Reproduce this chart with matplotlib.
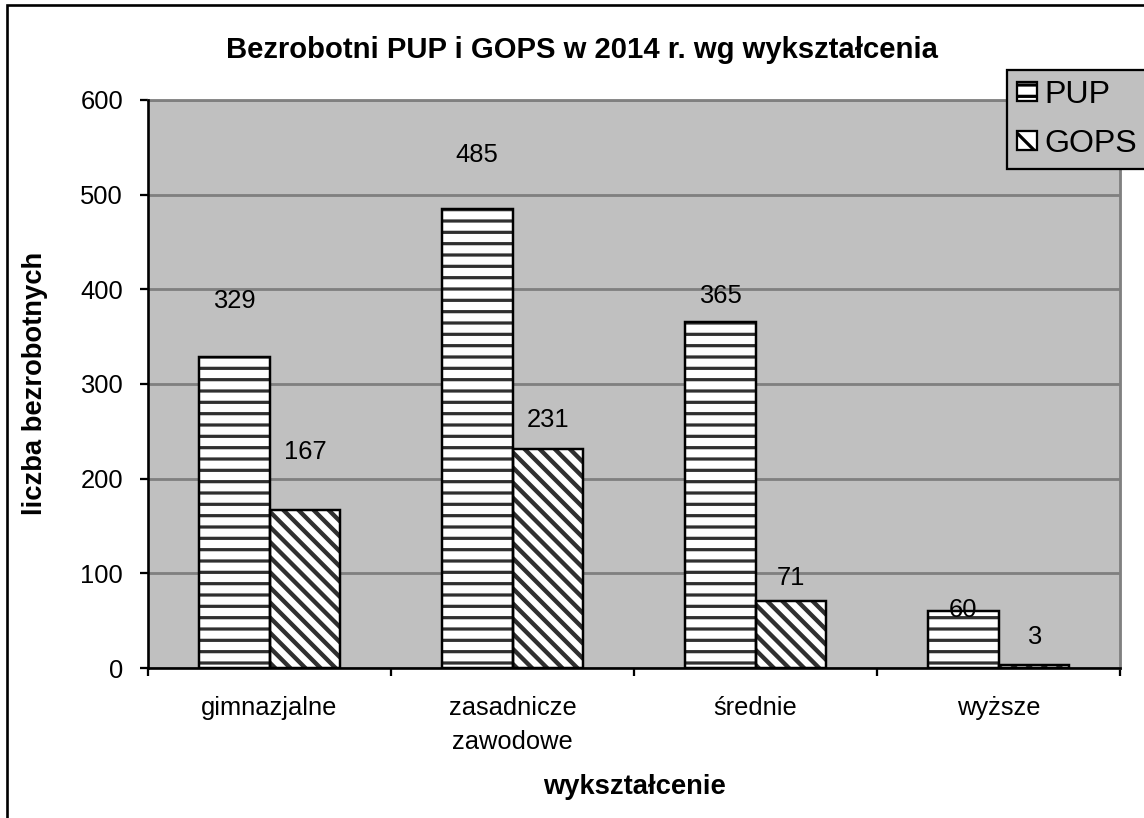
import matplotlib
matplotlib.use("Agg")
import matplotlib.pyplot as plt
import numpy as np
from matplotlib.patches import Rectangle, Patch

categories = ["gimnazjalne", "zasadnicze\nzawodowe", "średnie", "wyższe"]
series_names = ["PUP", "GOPS"]
pup = [329, 485, 365, 60]
gops = [167, 231, 71, 3]
yticks = [0, 100, 200, 300, 400, 500, 600]
title = "Bezrobotni PUP i GOPS w 2014 r. wg wykształcenia"
xlabel = "wykształcenie"
ylabel = "liczba bezrobotnych"

# label offsets above bar tops (pixels), styling only
pup_label_off = [56, 54, 26, 1]
gops_label_off = [58, 29, 23, 28]

DPI = 136
W, H = 1144, 818
plt.rcParams['font.family'] = ['Liberation Sans', 'DejaVu Sans']
plt.rcParams['hatch.linewidth'] = 1.7

fig = plt.figure(figsize=(W / DPI, H / DPI), dpi=DPI)
fig.patch.set_facecolor('white')

# outer chart border (extends past the right/bottom edges)
fig.patches.append(Rectangle((7 / W, -0.1), 1.2, 1 - 5 / H + 0.1, transform=fig.transFigure,
                             fill=False, edgecolor='black', linewidth=1.4, zorder=0))

ax = fig.add_axes([148 / W, 1 - 668 / H, (1120 - 148) / W, (668 - 100) / H])
ax.set_facecolor('#C0C0C0')

x = np.arange(len(categories))
bw = 0.292
hatch_col = '#303030'
HATCH_PUP = '--'
HATCH_GOPS = '\\\\\\'
for vals, off, hatch, hlw in [(pup, -bw / 2, HATCH_PUP, 1.7), (gops, bw / 2, HATCH_GOPS, 2.3)]:
    with plt.rc_context({'hatch.linewidth': hlw}):
        ax.bar(x + off, vals, bw, color='white', edgecolor=hatch_col, hatch=hatch,
               linewidth=0, zorder=3)
    ax.bar(x + off, vals, bw, fill=False, edgecolor='black', linewidth=1.3, zorder=4)

px2pt = 72 / DPI
FS = 13.5
for i in range(len(categories)):
    ax.annotate(str(pup[i]), (x[i] - bw / 2, pup[i]), xytext=(0, pup_label_off[i] * px2pt),
                textcoords='offset points', ha='center', va='center', fontsize=FS, zorder=5)
    ax.annotate(str(gops[i]), (x[i] + bw / 2, gops[i]), xytext=(0, gops_label_off[i] * px2pt),
                textcoords='offset points', ha='center', va='center', fontsize=FS, zorder=5)

ax.set_xlim(-0.5, len(categories) - 0.5)
ax.set_ylim(0, 600)
ax.set_yticks(yticks)
ax.tick_params(axis='y', direction='out', length=8 * px2pt, width=1.2, pad=17 * px2pt,
               labelsize=FS)
ax.set_xticks(x)
ax.set_xticklabels(categories, fontsize=FS, linespacing=1.55)
ax.tick_params(axis='x', which='major', length=0, pad=28 * px2pt)
ax.set_xticks(np.arange(-0.5, len(categories), 1.0), minor=True)
ax.tick_params(axis='x', which='minor', direction='out', length=8 * px2pt, width=1.2)

ax.yaxis.grid(True, color='#808080', linewidth=1.5, zorder=1)
ax.set_axisbelow(True)
for s in ['top', 'right']:
    ax.spines[s].set_color('#808080')
    ax.spines[s].set_linewidth(1.5)
for s in ['left', 'bottom']:
    ax.spines[s].set_color('black')
    ax.spines[s].set_linewidth(1.4)
    ax.spines[s].set_zorder(6)

fig.text(582 / W, 1 - 50 / H, title, ha='center', va='center', fontsize=15.5, fontweight='bold')
fig.text(35 / W, 1 - 383 / H, ylabel, ha='center', va='center', rotation=90,
         fontsize=14.5, fontweight='bold')
fig.text(634 / W, 1 - 787 / H, xlabel, ha='center', va='center', fontsize=14.5,
         fontweight='bold')

with plt.rc_context({'hatch.linewidth': 2.0}):
    handles = [Patch(facecolor='white', edgecolor='black', hatch='--', linewidth=1.2),
               Patch(facecolor='white', edgecolor='black', hatch='\\\\', linewidth=1.2)]
leg = fig.legend(handles, series_names, loc='upper left',
                 bbox_to_anchor=(1007 / W, 1 - 70 / H), bbox_transform=fig.transFigure,
                 fontsize=17, frameon=True, fancybox=False, borderpad=0.3,
                 handlelength=0.62, handleheight=0.55, handletextpad=0.25,
                 labelspacing=0.6, borderaxespad=0)
leg.get_frame().set_facecolor('#C0C0C0')
leg.get_frame().set_edgecolor('black')
leg.get_frame().set_linewidth(1.2)
leg.get_frame().set_alpha(1)

fig.savefig('out.png', dpi=DPI)
